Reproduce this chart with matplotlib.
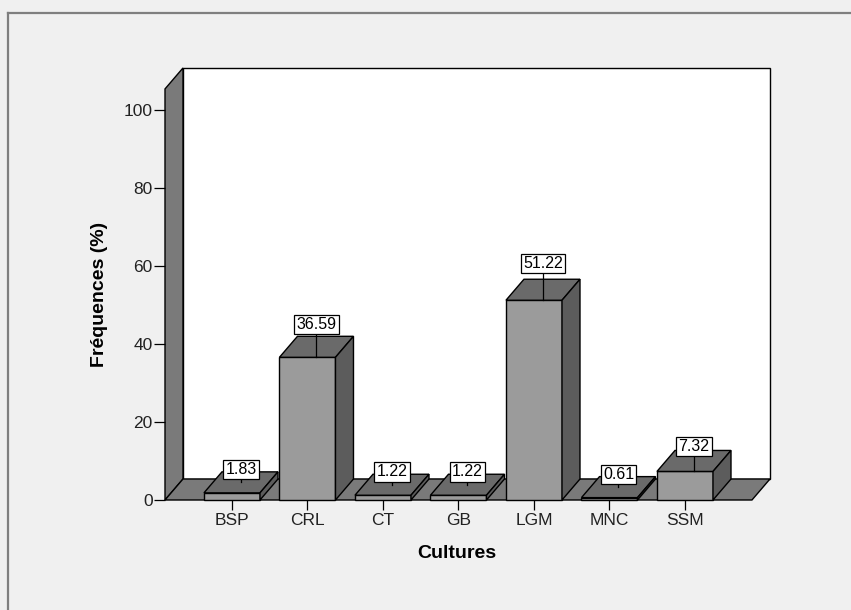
import matplotlib.pyplot as plt
from matplotlib.patches import Polygon
from matplotlib.lines import Line2D

# fréquences des cultures (%)
cultures = ['BSP', 'CRL', 'CT', 'GB', 'LGM', 'MNC', 'SSM']
freq = [1.83, 36.59, 1.22, 1.22, 51.22, 0.61, 7.32]
yticks = [0, 20, 40, 60, 80, 100]

plt.rcParams['font.family'] = ['Liberation Sans', 'DejaVu Sans']

BG = '#f0f0f0'
WALL = '#7a7a7a'
FRONT = '#9b9b9b'
TOP = '#6a6a6a'
SIDE = '#5c5c5c'

fig = plt.figure(figsize=(8.51, 6.10), dpi=100, facecolor=BG)
ax = fig.add_axes([165 / 851, 110 / 610, 605 / 851, 432 / 610])
ax.set_xlim(-0.887, 7.126)
ax.set_ylim(0, 110.77)
ax.patch.set_visible(False)
for s in ax.spines.values():
    s.set_visible(False)

# profondeur du cadre 3D : 18 px vers la droite, 21 px vers le haut
p0 = ax.transData.transform((0, 0))
ddx, ddy = ax.transData.inverted().transform(p0 + [18, 21])

x0, x1 = -0.887, len(cultures) - 1 + 0.887
top = 105.4
hw = 0.371  # demi-largeur des barres


def poly(pts, fc, z=1):
    ax.add_patch(Polygon(pts, closed=True, fc=fc, ec='black', lw=1.0,
                         joinstyle='miter', zorder=z, clip_on=False))


# murs et sol
poly([(x0 + ddx, ddy), (x1 + ddx, ddy), (x1 + ddx, top + ddy), (x0 + ddx, top + ddy)], 'white')
poly([(x0, 0), (x0 + ddx, ddy), (x0 + ddx, top + ddy), (x0, top)], WALL)
poly([(x0, 0), (x1, 0), (x1 + ddx, ddy), (x0 + ddx, ddy)], WALL)

# barres
for i, v in enumerate(freq):
    l, r = i - hw, i + hw
    poly([(l, 0), (r, 0), (r, v), (l, v)], FRONT, 2)
    poly([(l, v), (r, v), (r + ddx, v + ddy), (l + ddx, v + ddy)], TOP, 2)
    poly([(r, 0), (r + ddx, ddy), (r + ddx, v + ddy), (r, v)], SIDE, 2)

    # étiquette de valeur
    lx = i + ddx / 2
    ly = 1.069 * v + 5.9
    ax.plot([lx, lx], [ly, v + ddy / 2 if v < 2 else v], color='black', lw=0.9, zorder=3, clip_on=False)
    ax.text(lx, ly, '%.2f' % v, ha='center', va='center', fontsize=11.5, zorder=4,
            bbox=dict(boxstyle='square,pad=0.14', fc='white', ec='black', lw=0.9))

ax.set_yticks(yticks)
ax.set_xticks(range(len(cultures)))
ax.set_xticklabels(cultures)
ax.tick_params(axis='y', length=8, width=0.9, color='black', pad=1, labelsize=12.5, labelcolor='#222222')
ax.tick_params(axis='x', length=7.2, width=0.9, color='black', pad=2.5, labelsize=12.5, labelcolor='#222222')

fig.text(457 / 851, 1 - 553 / 610, 'Cultures', ha='center', va='center', fontsize=14, fontweight='bold')
fig.text(100 / 851, 1 - 294 / 610, 'Fréquences (%)', ha='center', va='center', rotation=90,
         fontsize=14, fontweight='bold')

# cadre extérieur
fig.add_artist(Line2D([8 / 851, 1], [1 - 13 / 610] * 2, color='#7f7f7f', lw=1.6))
fig.add_artist(Line2D([8 / 851] * 2, [0, 1 - 13 / 610], color='#7f7f7f', lw=1.6))

fig.savefig('out.png', dpi=100, facecolor=BG)
